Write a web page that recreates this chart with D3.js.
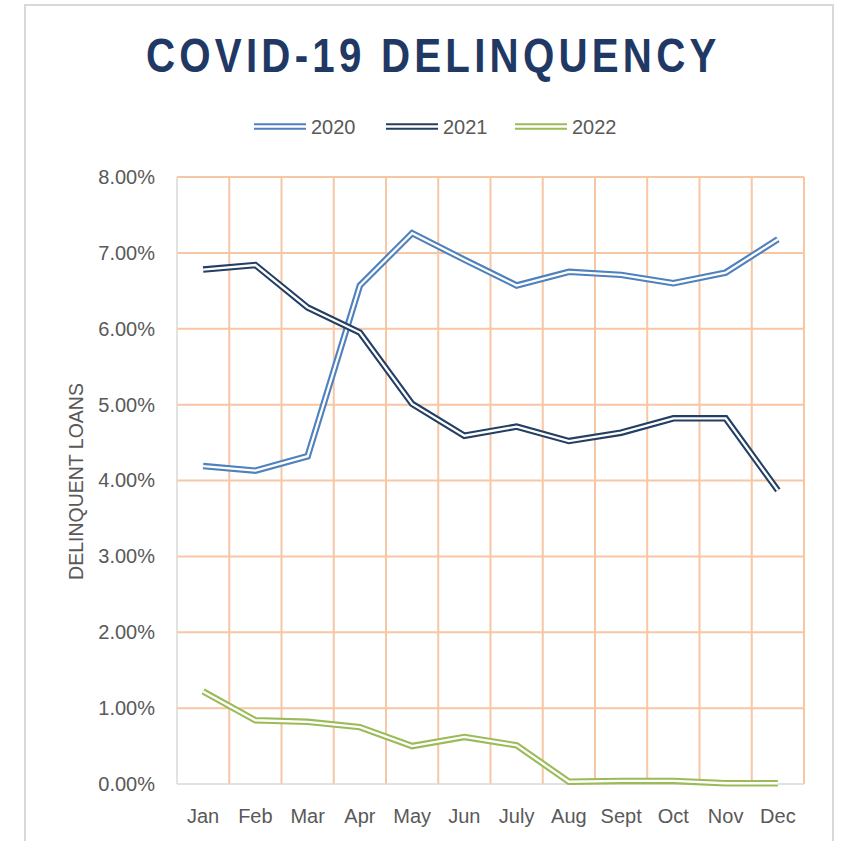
<!DOCTYPE html>
<html>
<head>
<meta charset="utf-8">
<script src="https://cdn.jsdelivr.net/npm/d3@7"></script>
<style>
  html, body { margin: 0; padding: 0; background: #fff; }
  svg text { font-family: "Liberation Sans", Arial, sans-serif; }
</style>
</head>
<body>
<svg id="chart"></svg>
<script>
const months = ['Jan','Feb','Mar','Apr','May','Jun','July','Aug','Sept','Oct','Nov','Dec'];
const years = ['2020','2021','2022'];
const values2020 = [4.19, 4.13, 4.32, 6.57, 7.26, 6.91, 6.57, 6.75, 6.71, 6.60, 6.74, 7.18];
const values2021 = [6.78, 6.84, 6.28, 5.95, 5.01, 4.59, 4.71, 4.52, 4.63, 4.82, 4.82, 3.87];
const values2022 = [1.22, 0.84, 0.82, 0.75, 0.50, 0.62, 0.51, 0.03, 0.04, 0.04, 0.01, 0.01];
const yTicks = [0, 1, 2, 3, 4, 5, 6, 7, 8];

const colors = ['#4f81bd', '#243f64', '#9bbb59'];
const series = [values2020, values2021, values2022];

const width = 843;
const height = 841;
const plotLeft = 177, plotRight = 804, plotTop = 177, plotBottom = 784;

const svg = d3.select('#chart')
  .attr('width', width)
  .attr('height', height);

// outer frame
svg.append('rect')
  .attr('x', 25)
  .attr('y', 5)
  .attr('width', 808)
  .attr('height', 860)
  .style('fill', 'none')
  .style('stroke', '#d9d9d9')
  .style('stroke-width', 2);

const x = d3.scaleBand()
  .domain(months)
  .range([plotLeft, plotRight])
  .padding(0);

const y = d3.scaleLinear()
  .domain([0, 8])
  .range([plotBottom, plotTop]);

const grid = svg.append('g');

// horizontal gridlines
grid.selectAll('line.h')
  .data(yTicks.slice(1))
  .join('line')
  .attr('class', 'h')
  .attr('x1', plotLeft)
  .attr('x2', plotRight)
  .attr('y1', d => y(d))
  .attr('y2', d => y(d))
  .style('stroke', '#f7c6a4')
  .style('stroke-width', 2);

// vertical gridlines at category edges
grid.selectAll('line.v')
  .data(months)
  .join('line')
  .attr('class', 'v')
  .attr('x1', d => x(d) + x.bandwidth())
  .attr('x2', d => x(d) + x.bandwidth())
  .attr('y1', plotTop)
  .attr('y2', plotBottom)
  .style('stroke', '#f7c6a4')
  .style('stroke-width', 2);

// axis lines
svg.append('line')
  .attr('x1', plotLeft).attr('x2', plotLeft)
  .attr('y1', plotTop).attr('y2', plotBottom)
  .style('stroke', '#d9d9d9').style('stroke-width', 1.5);
svg.append('line')
  .attr('x1', plotLeft).attr('x2', plotRight)
  .attr('y1', plotBottom).attr('y2', plotBottom)
  .style('stroke', '#d9d9d9').style('stroke-width', 1.5);

const yAxis = svg.append('g')
  .attr('transform', `translate(${plotLeft},0)`)
  .call(d3.axisLeft(y).tickValues(yTicks).tickSize(0).tickPadding(22)
    .tickFormat(d => d.toFixed(2) + '%'));
yAxis.select('.domain').remove();
yAxis.selectAll('text')
  .style('font-size', '20px')
  .style('fill', '#595959');

const xAxis = svg.append('g')
  .attr('transform', `translate(0,${plotBottom})`)
  .call(d3.axisBottom(x).tickSize(0));
xAxis.select('.domain').remove();
xAxis.selectAll('text')
  .attr('dy', null)
  .attr('y', 39)
  .style('font-size', '20px')
  .style('fill', '#595959');

// axis title
svg.append('text')
  .attr('transform', 'translate(82.5,481.5) rotate(-90)')
  .attr('text-anchor', 'middle')
  .style('font-size', '19.5px')
  .style('fill', '#595959')
  .text('DELINQUENT LOANS');

// double (compound) lines: wide colour stroke with a thin white core
const line = d3.line()
  .x((d, i) => x(months[i]) + x.bandwidth() / 2)
  .y(d => y(d));

series.forEach((vals, i) => {
  const g = svg.append('g');
  g.append('path')
    .datum(vals)
    .attr('d', line)
    .style('fill', 'none')
    .style('stroke', colors[i])
    .style('stroke-width', 6.5)
    .style('stroke-linejoin', 'miter');
  g.append('path')
    .datum(vals)
    .attr('d', line)
    .style('fill', 'none')
    .style('stroke', '#fff')
    .style('stroke-width', 2.3)
    .style('stroke-linejoin', 'miter');
});

// title, narrow glyphs with wide spacing
svg.append('text')
  .attr('transform', 'translate(146,72) scale(0.84,1)')
  .attr('textLength', 679)
  .attr('lengthAdjust', 'spacing')
  .style('font-weight', 'bold')
  .style('font-size', '48px')
  .style('fill', '#1f3864')
  .text('COVID-19 DELINQUENCY');

// legend
const legendX = [254, 386, 515];
const legend = svg.append('g');
years.forEach((yr, i) => {
  const lg = legend.append('g');
  lg.append('line')
    .attr('x1', legendX[i]).attr('x2', legendX[i] + 52)
    .attr('y1', 126.5).attr('y2', 126.5)
    .style('stroke', colors[i]).style('stroke-width', 6.5);
  lg.append('line')
    .attr('x1', legendX[i]).attr('x2', legendX[i] + 52)
    .attr('y1', 126.5).attr('y2', 126.5)
    .style('stroke', '#fff').style('stroke-width', 2.3);
  lg.append('text')
    .attr('x', legendX[i] + 57)
    .attr('y', 133.5)
    .style('font-size', '20px')
    .style('fill', '#595959')
    .text(yr);
});
</script>
</body>
</html>
